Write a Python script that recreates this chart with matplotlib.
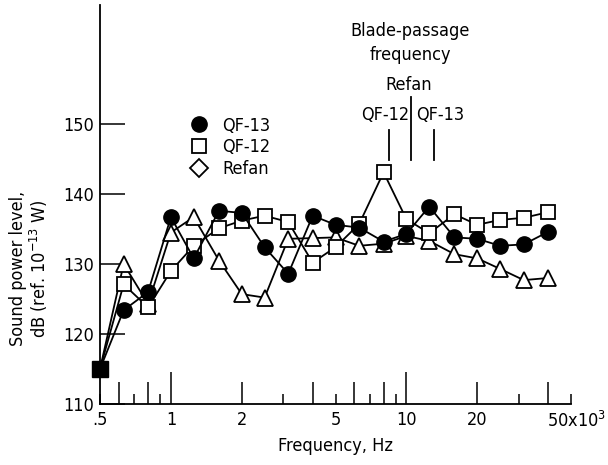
import matplotlib
matplotlib.use("Agg")
import matplotlib.pyplot as plt
from matplotlib.lines import Line2D
from matplotlib.ticker import FixedLocator, FixedFormatter, NullLocator
from matplotlib.transforms import ScaledTranslation

plt.rcParams['font.family'] = 'DejaVu Sans'
plt.rcParams['font.stretch'] = 'condensed'
plt.rcParams['font.size'] = 13
plt.rcParams['mathtext.fontset'] = 'custom'
plt.rcParams['mathtext.rm'] = 'DejaVu Sans:stretch=condensed'
plt.rcParams['mathtext.it'] = 'DejaVu Sans:style=italic:stretch=condensed'

# one-third octave band centre frequencies, kHz
freq = [0.5, 0.63, 0.8, 1, 1.25, 1.6, 2, 2.5, 3.15, 4, 5, 6.3, 8, 10, 12.5, 16, 20, 25, 31.5, 40]
qf13 = [115, 123.4, 126, 136.7, 130.8, 137.6, 137.3, 132.4, 128.6, 136.9, 135.6, 135.2, 133.2, 134.3,
        138.2, 133.8, 133.6, 132.6, 132.8, 134.6]
qf12 = [115, 127.1, 123.8, 129, 132.6, 135.1, 136.2, 136.9, 136, 130.2, 132.4, 135.7, 143.1, 136.4,
        134.4, 137.1, 135.6, 136.3, 136.6, 137.4]
refan = [115, 130, 124.3, 134.5, 136.7, 130.5, 125.7, 125.2, 133.6, 133.7, 133.8, 132.6, 132.9, 134,
         133.3, 131.4, 130.8, 129.3, 127.7, 128]

# blade-passage frequencies, kHz
bpf_names = ['QF-12', 'Refan', 'QF-13']
bpf_freq = [8.4, 10.5, 13.1]

xtick_vals = [0.5, 0.6, 0.7, 0.8, 0.9, 1, 2, 3, 4, 5, 6, 7, 8, 9, 10, 20, 30, 40, 50]
xtick_text = {0.5: '.5', 1: '1', 2: '2', 5: '5', 10: '10', 20: '20', 50: '50x10$^3$'}
yticks = [110, 120, 130, 140, 150]

fig = plt.figure(figsize=(6.08, 4.65), dpi=100)
ax = fig.add_axes([100/608, 1-404/465, 471/608, 399/465])

ax.plot(freq, refan, '-^', color='black', lw=1.3, ms=11, mfc='white', mec='black', mew=1.3, zorder=3)
ax.plot(freq, qf12, '-s', color='black', lw=1.3, ms=10, mfc='white', mec='black', mew=1.3, zorder=4)
ax.plot(freq, qf13, '-o', color='black', lw=1.3, ms=11, mfc='black', mec='black', zorder=5)
# common first point shows as a solid square
ax.plot(freq[0], qf13[0], 's', color='black', ms=11, zorder=6, clip_on=False)

ax.set_xscale('log')
ax.set_xlim(0.5, 50)
ax.set_ylim(110, 167)

for s in ['top', 'right']:
    ax.spines[s].set_visible(False)
ax.spines['left'].set_linewidth(1.3)
ax.spines['bottom'].set_linewidth(1.3)

ax.xaxis.set_major_locator(FixedLocator(xtick_vals))
ax.xaxis.set_major_formatter(FixedFormatter([xtick_text.get(v, '') for v in xtick_vals]))
ax.xaxis.set_minor_locator(NullLocator())
ax.tick_params(axis='x', direction='in', width=1.1, pad=5, labelsize=13)
fig.canvas.draw()
for v, t in zip(xtick_vals, ax.xaxis.get_major_ticks()):
    mant = round(v / 10 ** (len(str(int(v))) - 1)) if v >= 1 else round(v * 10)
    if mant == 1:
        t.tick1line.set_markersize(23)
    elif mant % 2 == 0:
        t.tick1line.set_markersize(16)
    else:
        t.tick1line.set_markersize(7)
    if v == 50:
        t.label1.set_horizontalalignment('left')
        t.label1.set_transform(t.label1.get_transform() +
                               ScaledTranslation(-24/100, 0, fig.dpi_scale_trans))

ax.set_yticks(yticks)
ax.tick_params(axis='y', direction='in', length=18, width=1.1, pad=4, labelsize=13)

ax.set_xlabel('Frequency, Hz', fontsize=13, labelpad=4)
ax.set_ylabel('Sound power level,\ndB (ref. 10$^{-13}$ W)', fontsize=13, linespacing=1.05)
ax.yaxis.set_label_coords(-0.106, 0.34)

handles = [Line2D([], [], ls='none', marker='o', ms=11, mfc='black', mec='black'),
           Line2D([], [], ls='none', marker='s', ms=10, mfc='white', mec='black', mew=1.3),
           Line2D([], [], ls='none', marker='D', ms=9, mfc='white', mec='black', mew=1.3)]
ax.legend(handles, ['QF-13', 'QF-12', 'Refan'], loc='upper left', bbox_to_anchor=(0.19, 0.72),
          frameon=False, handlelength=1.0, handletextpad=0.8, labelspacing=0.2, borderpad=0,
          borderaxespad=0, fontsize=13)

# blade-passage frequency markers
ax.text(10.4, 163.3, 'Blade-passage', ha='center', va='center', fontsize=13)
ax.text(10.4, 159.9, 'frequency', ha='center', va='center', fontsize=13)
ax.text(10.2, 155.6, 'Refan', ha='center', va='center', fontsize=13)
ax.text(10.3, 151.3, 'QF-12', ha='right', va='center', fontsize=13)
ax.text(11.0, 151.3, 'QF-13', ha='left', va='center', fontsize=13)
for name, f in zip(bpf_names, bpf_freq):
    top = 153.9 if name == 'Refan' else 149.1
    ax.plot([f, f], [144.9, top], color='black', lw=1.3)

fig.savefig('out.png', dpi=100)
